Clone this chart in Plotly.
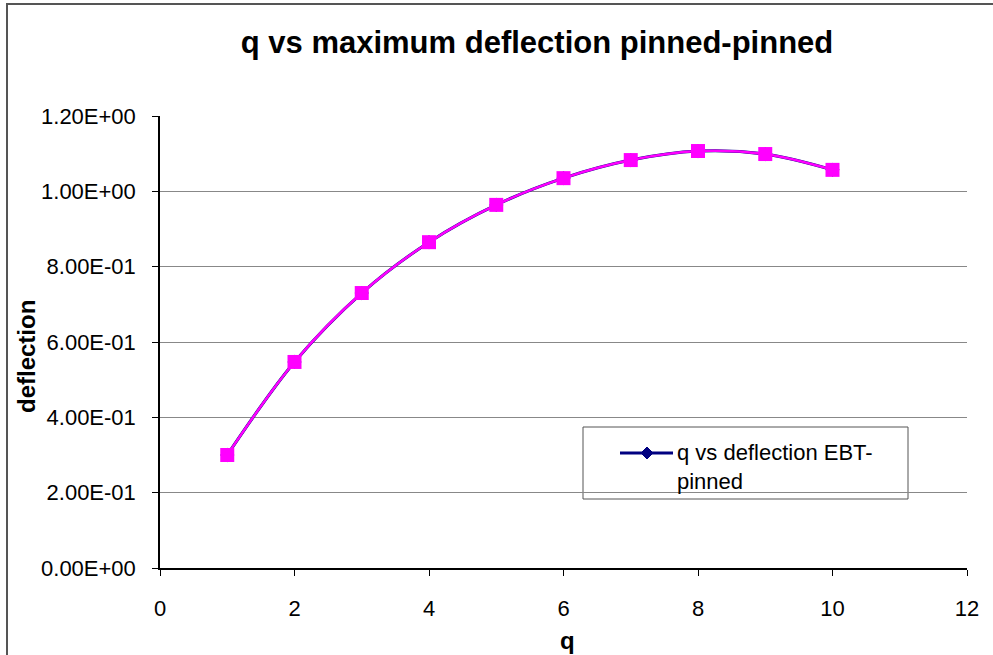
import plotly.graph_objects as go

q = [1, 2, 3, 4, 5, 6, 7, 8, 9, 10]
deflection = [0.300, 0.547, 0.730, 0.865, 0.964, 1.035, 1.083, 1.107, 1.099, 1.057]
y_tick_vals = [0, 0.2, 0.4, 0.6, 0.8, 1.0, 1.2]
y_tick_text = ["0.00E+00", "2.00E-01", "4.00E-01", "6.00E-01", "8.00E-01", "1.00E+00", "1.20E+00"]
x_tick_vals = [0, 2, 4, 6, 8, 10, 12]
legend_label = "q vs deflection EBT-<br>pinned"

FONT = "Liberation Sans, Arial, sans-serif"
NAVY = "#000080"

# pixel -> paper helpers (plot area: x 160..967, y 568..116)
def px(x):
    return (x - 160) / 807

def py(y):
    return (568 - y) / 452

fig = go.Figure()
fig.add_trace(go.Scatter(
    x=q, y=deflection, mode="lines+markers", name=legend_label, showlegend=False,
    line=dict(color=NAVY, width=3, shape="spline", smoothing=1),
    marker=dict(symbol="diamond", size=11, color=NAVY),
))
fig.add_trace(go.Scatter(
    x=q, y=deflection, mode="lines+markers", showlegend=False,
    line=dict(color="#FF00FF", width=2.5, shape="spline", smoothing=1),
    marker=dict(symbol="square", size=14, color="#FF00FF"),
))

fig.update_layout(
    width=993, height=655,
    margin=dict(l=160, r=26, t=116, b=87),
    paper_bgcolor="white", plot_bgcolor="white",
    font=dict(family=FONT, size=22, color="black"),
    title=dict(text="<b>q vs maximum deflection pinned-pinned</b>",
               x=537 / 993, xanchor="center", y=1 - 42 / 655, yanchor="middle",
               font=dict(size=31, family=FONT)),
    xaxis=dict(range=[0, 12], tickvals=x_tick_vals, showgrid=False, zeroline=False,
               showline=True, linecolor="black", linewidth=1.5,
               ticks="outside", ticklen=6, tickcolor="black",
               tickfont=dict(size=22), ticklabelstandoff=14),
    yaxis=dict(range=[0, 1.2], tickvals=y_tick_vals, ticktext=y_tick_text,
               showgrid=True, gridcolor="#888888", gridwidth=1, zeroline=False,
               showline=True, linecolor="black", linewidth=1.5,
               ticks="outside", ticklen=6, tickcolor="black",
               tickfont=dict(size=22), ticklabelstandoff=12),
    showlegend=False,
)

fig.add_annotation(text="<b>deflection</b>", xref="paper", yref="paper",
                   x=px(26), y=py(357), textangle=-90,
                   showarrow=False, font=dict(size=24, family=FONT),
                   xanchor="center", yanchor="middle")
fig.add_annotation(text="<b>q</b>", xref="paper", yref="paper",
                   x=px(567), y=py(640),
                   showarrow=False, font=dict(size=24, family=FONT),
                   xanchor="center", yanchor="middle")

# legend (drawn manually to match the original layout)
fig.add_shape(type="rect", xref="paper", yref="paper",
              x0=px(583), x1=px(908), y0=py(499), y1=py(427),
              line=dict(color="#555555", width=1), fillcolor="white", layer="below")
fig.add_shape(type="line", xref="paper", yref="paper",
              x0=px(620), x1=px(673), y0=py(453), y1=py(453),
              line=dict(color=NAVY, width=3))
cx, cy = 647, 453
fig.add_shape(type="path", xref="paper", yref="paper",
              path=f"M {px(cx-6)},{py(cy)} L {px(cx)},{py(cy-6)} L {px(cx+6)},{py(cy)} L {px(cx)},{py(cy+6)} Z",
              line=dict(color=NAVY, width=1), fillcolor=NAVY)
fig.add_annotation(text=legend_label, xref="paper", yref="paper",
                   x=px(675), y=py(438), xanchor="left", yanchor="top", align="left",
                   showarrow=False, font=dict(size=22, family=FONT))

# outer chart border (left and top edges visible)
fig.add_shape(type="path", xref="paper", yref="paper",
              path=f"M {px(7)},{py(700)} L {px(7)},{py(4)} L {px(1100)},{py(4)}",
              line=dict(color="#555555", width=2))

fig.write_html("out.html")
